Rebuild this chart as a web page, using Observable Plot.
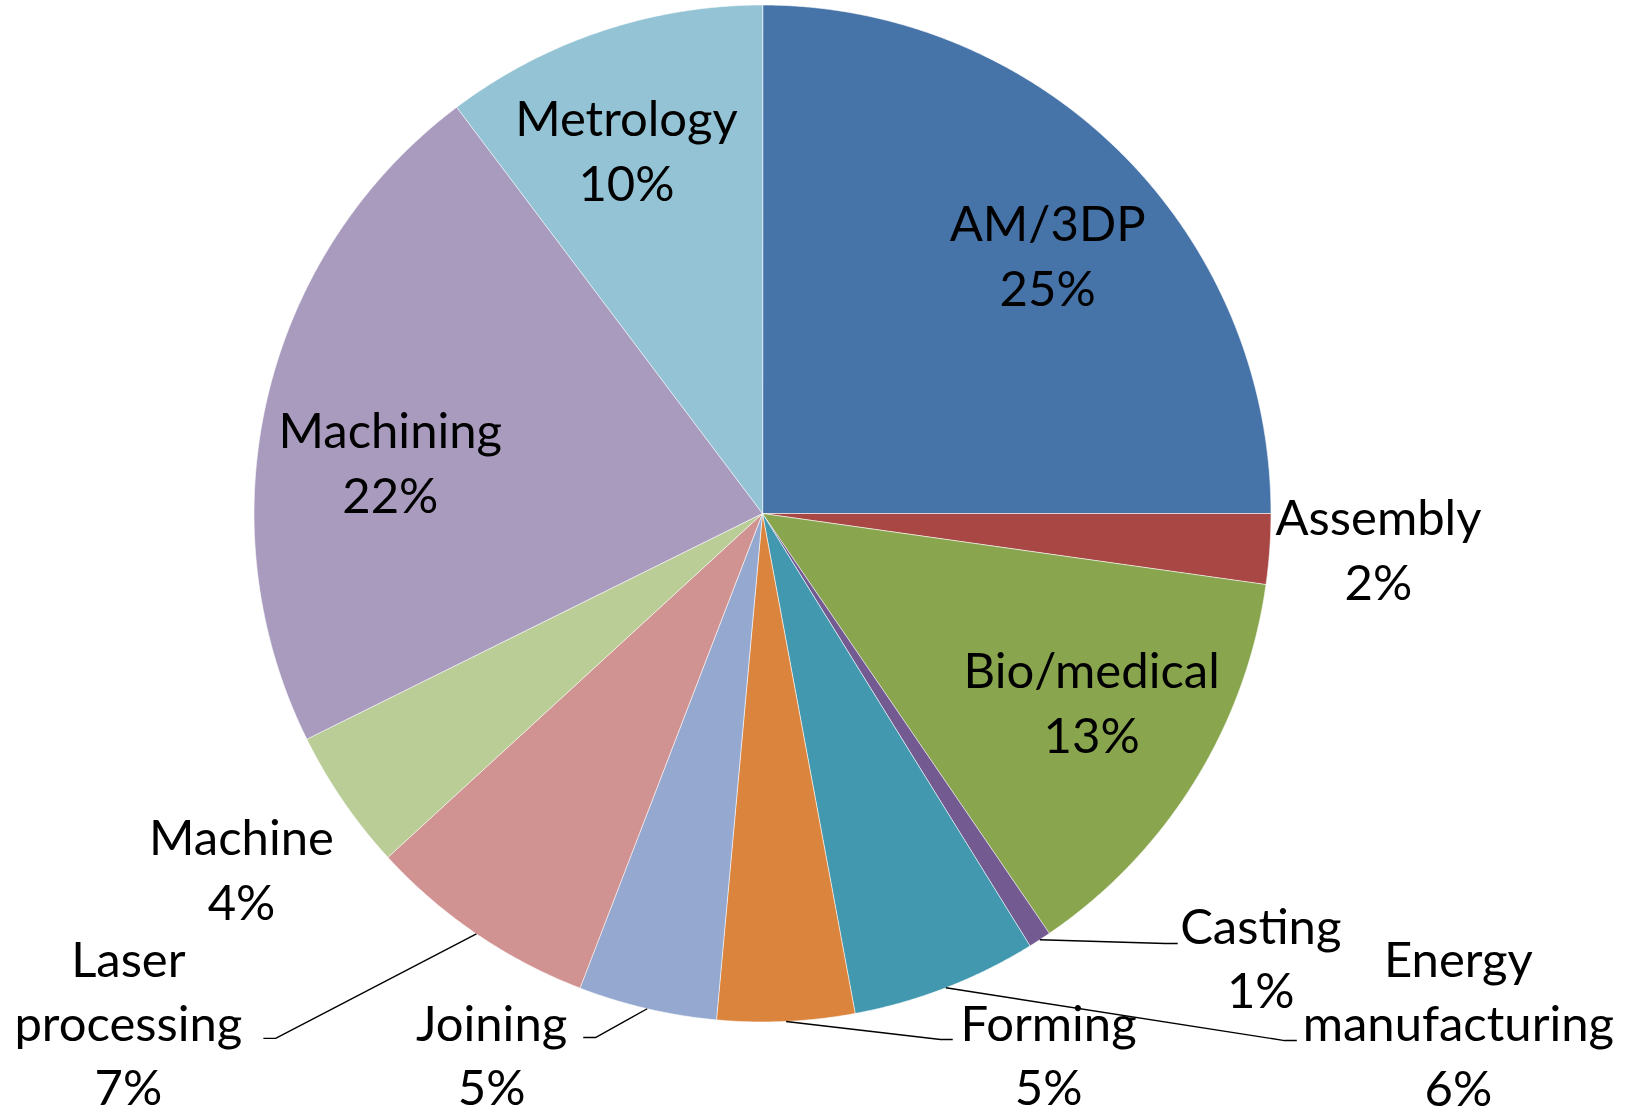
<!DOCTYPE html>
<html>
<head>
<meta charset="utf-8">
<script src="https://cdn.jsdelivr.net/npm/d3@7"></script>
<script src="https://cdn.jsdelivr.net/npm/@observablehq/plot@0.6"></script>
<style>
  html, body { margin: 0; padding: 0; background: #ffffff; }
  #chart svg { display: block; }
</style>
</head>
<body>
<div id="chart"></div>
<script>
// ---- data (clockwise from 12 o'clock) ----
const categories = ["AM/3DP", "Assembly", "Bio/medical", "Casting", "Energy manufacturing",
  "Forming", "Joining", "Laser processing", "Machine", "Machining", "Metrology"];
// slice sizes as measured from the slice angles
const shares = [25.0, 2.23, 13.23, 0.72, 5.9, 4.36, 4.4, 7.34, 4.5, 22.05, 10.27];
// percentage labels as printed on the chart
const percentLabels = [25, 2, 13, 1, 6, 5, 5, 7, 4, 22, 10];
const colors = ["#4674A8", "#A94744", "#89A54E", "#735A90", "#4299AF",
  "#DB843D", "#95A9D0", "#D19392", "#BACD97", "#A99BBE", "#93C3D4"];

// ---- label layout (polar: radius in pie radii, angle in degrees clockwise from top) ----
const labelRadius = [0.694, 1.223, 0.800, 1.381, 1.797, 1.293, 1.280, 1.706, 1.299, 0.732, 0.671];
const labelAngle = [53.9, 97.95, 126.0, 134.8, 130.4, 154.2, 204.6, 226.97, 232.07, 270.15, 336.5];
// leader lines: elbow radius, elbow angle, horizontal stub direction
const leaderLayout = {
  "Casting": [1.159, 136.86, 1],
  "Energy manufacturing": [1.459, 135.27, 1],
  "Forming": [1.092, 161.3, 1],
  "Joining": [1.0816, 197.68, -1],
  "Laser processing": [1.408, 222.85, -1]
};

// ---- derived geometry ----
const total = d3.sum(shares);
const polar = (r, deg) => {
  const t = deg * Math.PI / 180;
  return [r * Math.sin(t), r * Math.cos(t)];
};

const sliceRows = [];
const labelRows = [];
const leaderRows = [];
let cum = 0;
categories.forEach((name, i) => {
  const a0 = cum / total * 360;
  cum += shares[i];
  const a1 = cum / total * 360;
  sliceRows.push({name, x: 0, y: 0});
  const n = Math.max(2, Math.ceil((a1 - a0) / 0.25));
  for (let k = 0; k <= n; ++k) {
    const [x, y] = polar(1, a0 + (a1 - a0) * k / n);
    sliceRows.push({name, x, y});
  }
  const [lx, ly] = polar(labelRadius[i], labelAngle[i]);
  labelRows.push({name, x: lx, y: ly, text: name.replace(" ", "\n") + "\n" + percentLabels[i] + "%"});
  const L = leaderLayout[name];
  if (L) {
    const mid = (a0 + a1) / 2;
    const [sx, sy] = polar(1, mid);
    const [ex, ey] = polar(L[0], L[1]);
    leaderRows.push({name, x: sx, y: sy});
    leaderRows.push({name, x: ex, y: ey});
    leaderRows.push({name, x: ex + L[2] * 0.024, y: ey});
  }
});

const chart = Plot.plot({
  width: 1637,
  height: 1109,
  margin: 0,
  style: {fontFamily: "Lato, sans-serif", background: "#ffffff", overflow: "visible"},
  x: {domain: [-1, 1], range: [253.5, 1270.5], axis: null},
  y: {domain: [-1, 1], range: [1021.5, 4.5], axis: null},
  color: {type: "ordinal", domain: categories, range: colors},
  marks: [
    Plot.line(sliceRows, {x: "x", y: "y", z: "name", fill: "name", stroke: "#ffffff",
      strokeWidth: 1, strokeOpacity: 0.6, curve: "linear-closed"}),
    Plot.line(leaderRows, {x: "x", y: "y", z: "name", stroke: "#000000", strokeWidth: 1.4,
      strokeLinecap: "butt", strokeLinejoin: "miter"}),
    Plot.text(labelRows, {x: "x", y: "y", text: "text", fontSize: 49, lineHeight: 1.316,
      lineAnchor: "bottom", textAnchor: "middle", fill: "#000000"})
  ]
});
document.getElementById("chart").appendChild(chart);
</script>
</body>
</html>
